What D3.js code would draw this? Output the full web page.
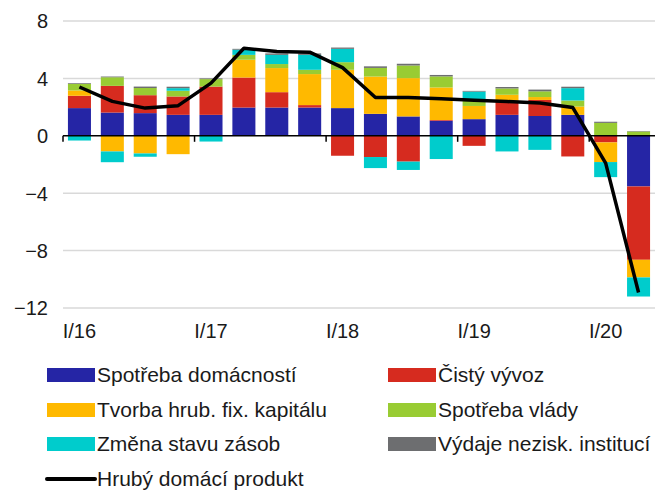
<!DOCTYPE html>
<html>
<head>
<meta charset="utf-8">
<script src="https://cdn.jsdelivr.net/npm/d3@7"></script>
<style>
  html, body { margin: 0; padding: 0; background: #fff; }
  svg text { font-family: "Liberation Sans", Arial, sans-serif; fill: #1a1a1a; }
</style>
</head>
<body>
<svg id="chart" width="664" height="497"></svg>
<script>
// ---- Data ----
const quarters = ["I/16","II/16","III/16","IV/16","I/17","II/17","III/17","IV/17",
                  "I/18","II/18","III/18","IV/18","I/19","II/19","III/19","IV/19","I/20","II/20"];
const yearLabels = ["I/16","I/17","I/18","I/19","I/20"];
const yTicks = [8, 4, 0, -4, -8, -12];

const household   = [1.93, 1.62, 1.58, 1.46, 1.46, 1.97, 1.97, 1.97, 1.93, 1.53, 1.35, 1.05, 1.16, 1.46, 1.38, 1.46, 0, -3.53];
const netExport   = [0.86, 1.86, 1.25, 1.28, 1.97, 2.09, 1.07, 0.17, -1.39, -1.48, -1.8, 0.05, -0.7, 1.0, 1.12, -1.44, -0.46, -5.11];
const gfcf        = [0.37, -1.09, -1.23, -1.28, 0, 1.24, 1.68, 2.16, 2.67, 2.6, 2.67, 2.27, 0.92, 0.4, 0.2, 0.58, -1.37, -1.23];
const government  = [0.46, 0.6, 0.5, 0.4, 0.52, 0.34, 0.28, 0.3, 0.53, 0.6, 0.88, 0.77, 0.45, 0.44, 0.4, 0.42, 0.9, 0.3];
const inventories = [-0.33, -0.75, -0.23, 0.18, -0.4, 0.36, 0.64, 1.04, 0.93, -0.77, -0.58, -1.62, 0.55, -1.09, -0.98, 0.86, -1.05, -1.33];
const npish       = [0.05, 0.05, 0.1, 0.1, 0.05, 0.06, 0.1, 0.1, 0.09, 0.11, 0.12, 0.1, 0.05, 0.1, 0.12, 0.1, 0.08, 0.03];
const gdp         = [3.4, 2.4, 1.93, 2.1, 3.67, 6.1, 5.87, 5.83, 4.75, 2.67, 2.67, 2.58, 2.48, 2.39, 2.28, 1.97, -1.9, -10.92];

const seriesNames = ["Spotřeba domácností", "Čistý vývoz", "Tvorba hrub. fix. kapitálu",
                     "Spotřeba vlády", "Změna stavu zásob", "Výdaje nezisk. institucí"];
const seriesValues = [household, netExport, gfcf, government, inventories, npish];
const seriesColors = ["#2525a5", "#d62b1f", "#ffb900", "#99cc33", "#00cccc", "#6d6e70"];
const lineName = "Hrubý domácí produkt";

// ---- Build table ----
const keys = seriesNames;
const table = quarters.map((q, i) => {
  const row = { q };
  keys.forEach((k, j) => row[k] = seriesValues[j][i]);
  return row;
});

const svg = d3.select("#chart");
const plotLeft = 63, plotRight = 655, plotTop = 21, plotBottom = 308;

const x = d3.scaleBand().domain(quarters).range([plotLeft, plotRight]).paddingInner(0.3).paddingOuter(0.15);
const y = d3.scaleLinear().domain([-12, 8]).range([plotBottom, plotTop]);
const color = d3.scaleOrdinal().domain(keys).range(seriesColors);

// gridlines
svg.append("g")
  .selectAll("line")
  .data(yTicks.filter(t => t !== 0))
  .join("line")
  .attr("x1", plotLeft).attr("x2", plotRight)
  .attr("y1", d => y(d)).attr("y2", d => y(d))
  .attr("stroke", "#d9d9d9").attr("stroke-width", 1.5);

// y axis labels
const yAxis = d3.axisLeft(y).tickValues(yTicks).tickSize(0).tickPadding(0).tickFormat(d3.format("d"));
const gy = svg.append("g").attr("transform", `translate(${48},0)`).call(yAxis);
gy.select(".domain").remove();
gy.selectAll("text").style("font-size", "20px").attr("fill", "#1a1a1a").attr("dy", "0.34em");

// stacked bars
const stack = d3.stack().keys(keys).offset(d3.stackOffsetDiverging);
const stacked = stack(table);
svg.append("g")
  .selectAll("g")
  .data(stacked)
  .join("g")
  .attr("fill", d => color(d.key))
  .selectAll("rect")
  .data(d => d)
  .join("rect")
  .attr("x", d => x(d.data.q))
  .attr("width", x.bandwidth())
  .attr("y", d => y(Math.max(d[0], d[1])))
  .attr("height", d => Math.abs(y(d[0]) - y(d[1])));

// zero axis with year ticks
const yearStarts = quarters.filter(q => q.startsWith("I/"));
const xAxis = d3.axisBottom(x).tickValues([]).tickSizeOuter(0);
const gx = svg.append("g").attr("transform", `translate(0,${y(0)})`).call(xAxis);
gx.select(".domain").attr("stroke", "#000").attr("stroke-width", 1.5)
  .attr("d", `M${plotLeft},0H${plotRight}`);
gx.selectAll(".yeartick")
  .data(yearStarts)
  .join("line")
  .attr("class", "yeartick")
  .attr("x1", d => x(d) - x.step() * x.paddingInner() / 2)
  .attr("x2", d => x(d) - x.step() * x.paddingInner() / 2)
  .attr("y1", 0).attr("y2", 6)
  .attr("stroke", "#000").attr("stroke-width", 1.5);

// x labels
svg.append("g")
  .selectAll("text")
  .data(yearLabels)
  .join("text")
  .attr("x", d => x(d) + x.bandwidth() / 2)
  .attr("y", 331)
  .attr("dy", "0.35em")
  .attr("text-anchor", "middle")
  .style("font-size", "20px")
  .text(d => d);

// GDP line
const line = d3.line()
  .x((d, i) => x(quarters[i]) + x.bandwidth() / 2)
  .y(d => y(d));
svg.append("path")
  .datum(gdp)
  .attr("d", line)
  .attr("fill", "none")
  .attr("stroke", "#000")
  .attr("stroke-width", 3.5)
  .attr("stroke-linejoin", "round");

// legend
const legendItems = [
  { name: seriesNames[0], color: seriesColors[0], col: 0, row: 0 },
  { name: seriesNames[1], color: seriesColors[1], col: 1, row: 0 },
  { name: seriesNames[2], color: seriesColors[2], col: 0, row: 1 },
  { name: seriesNames[3], color: seriesColors[3], col: 1, row: 1 },
  { name: seriesNames[4], color: seriesColors[4], col: 0, row: 2 },
  { name: seriesNames[5], color: seriesColors[5], col: 1, row: 2 }
];
const colX = [47, 388];
const rowY = [375, 410, 444, 479];
const lg = svg.append("g");
const items = lg.selectAll("g").data(legendItems).join("g")
  .attr("transform", d => `translate(${colX[d.col]},${rowY[d.row]})`);
items.append("rect").attr("x", 0).attr("y", -7).attr("width", 48).attr("height", 14).attr("fill", d => d.color);
items.append("text").attr("x", 50).attr("dy", "0.35em").style("font-size", "21px").text(d => d.name);

const lineItem = lg.append("g").attr("transform", `translate(${colX[0]},${rowY[3]})`);
lineItem.append("line").attr("x1", 0).attr("x2", 48).attr("y1", 0).attr("y2", 0)
  .attr("stroke", "#000").attr("stroke-width", 4).attr("stroke-linecap", "round");
lineItem.append("text").attr("x", 50).attr("dy", "0.35em").style("font-size", "21px").text(lineName);
</script>
</body>
</html>
